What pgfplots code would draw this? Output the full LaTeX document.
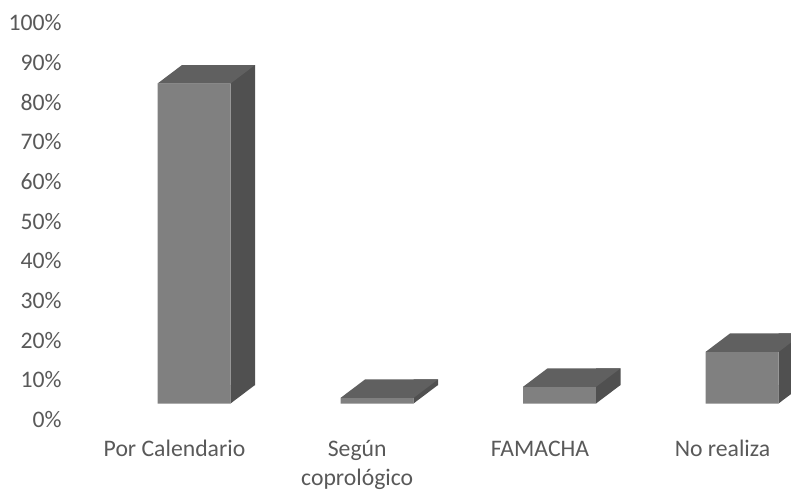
\documentclass[border=0pt]{standalone}
\usepackage{fontspec}
\setmainfont{Carlito}
\usepackage{pgfplots}
\usepackage{pgfplotstable}
\pgfplotsset{compat=1.18}
\definecolor{txt}{HTML}{595959}
\definecolor{frontc}{HTML}{808080}
\definecolor{topc}{HTML}{606060}
\definecolor{sidec}{HTML}{505050}
% top face of a box, relative to the data point (x, value)
\pgfdeclareplotmark{topface}{%
  \pgfpathmoveto{\pgfpoint{-18.25pt}{8pt}}%
  \pgfpathlineto{\pgfpoint{18.25pt}{8pt}}%
  \pgfpathlineto{\pgfpoint{30.5pt}{17.25pt}}%
  \pgfpathlineto{\pgfpoint{-6pt}{17.25pt}}%
  \pgfpathclose\pgfusepathqfill}
% lower corner of the side face, relative to (x, 0)
\pgfdeclareplotmark{basetri}{%
  \pgfpathmoveto{\pgfpoint{18.25pt}{8pt}}%
  \pgfpathlineto{\pgfpoint{18.25pt}{17.25pt}}%
  \pgfpathlineto{\pgfpoint{30.5pt}{17.25pt}}%
  \pgfpathclose\pgfusepathqfill}
\pgfplotstableread{
x v
194 80.7
377 1.4
559.5 4.2
742 13.0
}\bars
\begin{document}
\begin{tikzpicture}
\path[use as bounding box] (0,0) rectangle (395.5pt,244.5pt);
\begin{axis}[
  at={(31pt,26.7pt)}, anchor=south west,
  scale only axis, width=364.5pt, height=212.8pt,
  xmin=62, xmax=791, ymin=-4.06, ymax=103.279,
  axis line style={draw=none}, major tick style={draw=none},
  ytick={0,10,...,100},
  yticklabels={0\%,10\%,20\%,30\%,40\%,50\%,60\%,70\%,80\%,90\%,100\%},
  xtick={174.5,357.2,540,722.5},
  xticklabels={{\strut Por Calendario},{\strut Según\\coprológico},{\strut FAMACHA},{\strut No realiza}},
  every tick label/.append style={font=\fontsize{11.85}{14.5}\selectfont, text=txt, inner sep=0pt},
  yticklabel style={anchor=east},
  xticklabel style={align=center, anchor=north},
  clip=true,
]
\addplot[ybar, bar width=12.25pt, bar shift=24.375pt, yshift=17.25pt, fill=sidec, draw=none] table[x=x,y=v]{\bars};
\addplot[only marks, mark=basetri, mark options={fill=sidec, draw=none}] table[x=x,y expr=0]{\bars};
\addplot[ybar, bar width=36.5pt, bar shift=0pt, yshift=8pt, fill=frontc, draw=none] table[x=x,y=v]{\bars};
\addplot[only marks, mark=topface, mark options={fill=topc, draw=none}] table[x=x,y=v]{\bars};
\end{axis}
\end{tikzpicture}
\end{document}
